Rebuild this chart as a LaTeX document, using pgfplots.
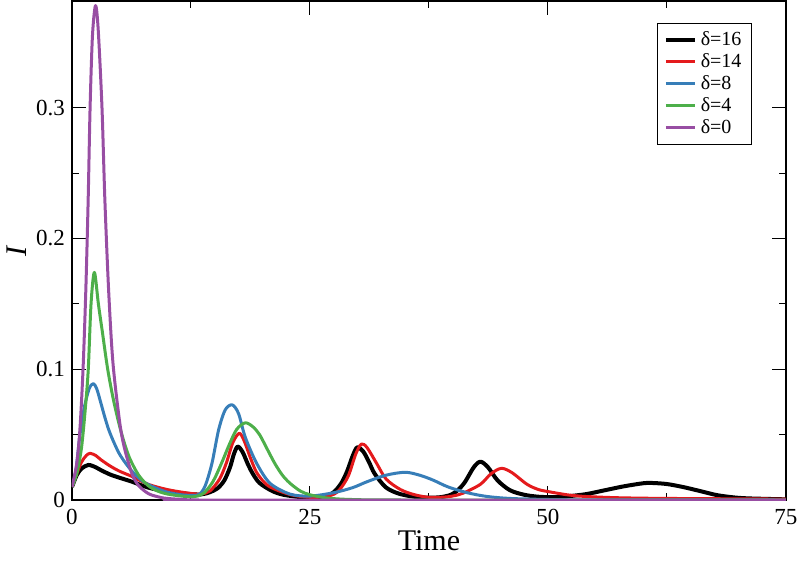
\documentclass[border=0pt]{standalone}
\usepackage{fontspec}
\setmainfont{Liberation Serif}
\usepackage{pgfplots}
\pgfplotsset{compat=1.18}
\definecolor{cred}{HTML}{E41A1C}
\definecolor{cblue}{HTML}{377EB8}
\definecolor{cgreen}{HTML}{4DAF4A}
\definecolor{cpurple}{HTML}{984EA3}
\begin{document}
\begin{tikzpicture}
\path[use as bounding box] (-36pt,-32pt) rectangle (364pt,250pt);
\begin{axis}[
  at={(0,0)}, anchor=south west,
  scale only axis, width=357pt, height=249.5pt,
  xmin=0, xmax=75, ymin=0, ymax=0.3815,
  xtick={0,25,50,75}, xticklabels={0,25,50,75},
  ytick={0,0.1,0.2,0.3}, yticklabels={0,0.1,0.2,0.3},
  minor x tick num=1, minor y tick num=1,
  tick align=inside,
  major tick length=7pt, minor tick length=3.5pt,
  every tick/.style={black, line width=0.5pt},
  axis line style={line width=1pt},
  /pgf/number format/assume math mode=true,
  ticklabel style={font=\rmfamily\fontsize{11.5}{13}\selectfont},
  xticklabel style={yshift=-1pt},
  xlabel={Time}, xlabel style={font=\fontsize{15}{17}\selectfont, yshift=4pt},
  ylabel={\textit{I}}, ylabel style={font=\fontsize{15}{17}\selectfont, yshift=-2pt},
  legend cell align=left,
  legend style={at={(1,1)}, anchor=north east, xshift=-17pt, yshift=-11pt,
    draw=black, line width=0.5pt, font=\fontsize{10}{11.5}\selectfont,
    inner xsep=3pt, inner ysep=2pt, row sep=-1.5pt},
  legend image code/.code={\draw[#1] (0pt,0pt) -- (14.5pt,0pt);},
  every axis plot/.append style={line join=round},
]
\addplot[black, line width=2pt, smooth, tension=0.5] coordinates {
(0,0.01) (0.5,0.019) (1.0,0.024) (1.72,0.0268) (2.5,0.025) (3,0.023) (4,0.0195) (5,0.017) (6.3,0.014) (8,0.0095) (10,0.0065) (12,0.0048) (13.5,0.0042) (14.5,0.006) (15.3,0.009) (16.0,0.015) (16.6,0.025) (17.0,0.035) (17.4,0.0408) (17.9,0.037) (18.5,0.027) (19.0,0.02) (19.7,0.013) (21,0.007) (22.2,0.004) (24,0.0022) (25.5,0.0018) (26.5,0.0025) (27.5,0.006) (28.3,0.013) (28.9,0.022) (29.5,0.034) (29.97,0.0403) (30.6,0.037) (31.2,0.029) (31.8,0.02) (33,0.0095) (34.5,0.0045) (36.5,0.002) (38.5,0.002) (39.8,0.004) (40.6,0.008) (41.3,0.014) (42.2,0.025) (42.9,0.0293) (43.7,0.025) (44.7,0.015) (46,0.0075) (47.5,0.004) (49,0.0025) (50.5,0.0022) (52,0.0028) (54,0.0045) (56,0.0075) (58,0.0105) (60,0.0128) (61,0.013) (62.5,0.0122) (64.2,0.0099) (66,0.0068) (67.7,0.0038) (69.5,0.002) (71.2,0.0012) (75,0.0005)
};
\addlegendentry{δ=16}
\addplot[cred, line width=1.5pt, smooth, tension=0.5] coordinates {
(0,0.01) (0.5,0.02) (1.0,0.029) (1.5,0.034) (1.9,0.0357) (2.5,0.034) (3,0.031) (4,0.026) (5,0.022) (6.3,0.018) (8,0.012) (10,0.008) (12,0.0055) (13.5,0.0045) (14.5,0.007) (15.5,0.016) (16.2,0.028) (16.9,0.044) (17.58,0.051) (18.1,0.045) (18.7,0.033) (19.4,0.021) (20.4,0.012) (21.5,0.0077) (23,0.004) (24.3,0.0025) (25.5,0.002) (27,0.003) (28,0.007) (29,0.018) (29.8,0.035) (30.4,0.0428) (31,0.040) (32,0.028) (33,0.016) (34.5,0.008) (36,0.004) (37.6,0.002) (39.5,0.0025) (41,0.005) (42.9,0.012) (44,0.020) (45.1,0.0242) (46.2,0.021) (47.8,0.012) (49,0.008) (50.2,0.0062) (52,0.004) (53.7,0.0028) (57,0.0018) (61,0.0013) (67,0.001) (75,0.0007)
};
\addlegendentry{δ=14}
\addplot[cblue, line width=1.5pt, smooth, tension=0.5] coordinates {
(0,0.01) (0.4,0.022) (0.84,0.05) (1.3,0.071) (1.8,0.085) (2.24,0.089) (2.6,0.085) (3.0,0.075) (3.5,0.062) (4.0,0.051) (5,0.035) (6.3,0.022) (7.5,0.014) (8.7,0.0095) (10,0.006) (11.5,0.004) (12.7,0.0035) (13.4,0.0045) (14.0,0.011) (14.7,0.028) (15.4,0.0536) (16.1,0.069) (16.84,0.0727) (17.5,0.066) (18.2,0.048) (19.4,0.028) (20.8,0.0128) (22.9,0.0045) (25,0.003) (27.5,0.0056) (29.5,0.0095) (31,0.014) (33,0.019) (35,0.0212) (36.5,0.019) (37.9,0.0153) (39.5,0.010) (41.5,0.0056) (43.5,0.0028) (46,0.0012) (50,0.0004) (55,0.0001) (75,0)
};
\addlegendentry{δ=8}
\addplot[cgreen, line width=1.5pt, smooth, tension=0.5] coordinates {
(0,0.01) (0.5,0.02) (1.0,0.04) (1.4,0.07) (1.71,0.10) (2.0,0.15) (2.35,0.174) (2.77,0.15) (3.2,0.128) (3.75,0.10) (4.4,0.075) (5.2,0.051) (6,0.033) (7,0.019) (8,0.011) (9,0.0068) (10,0.0046) (11.5,0.003) (12.8,0.0025) (13.8,0.005) (14.8,0.014) (15.7,0.028) (16.5,0.042) (17.3,0.054) (18.2,0.059) (19,0.056) (19.7,0.050) (20.5,0.039) (21.3,0.028) (22.1,0.019) (22.9,0.0128) (24,0.0068) (25,0.004) (26.5,0.0018) (28,0.0008) (30,0.0003) (35,0) (75,0)
};
\addlegendentry{δ=4}
\addplot[cpurple, line width=1.5pt, smooth, tension=0.5] coordinates {
(0,0.01) (0.5,0.028) (0.84,0.055) (1.16,0.10) (1.45,0.16) (1.7,0.23) (1.9,0.30) (2.15,0.355) (2.47,0.378) (2.75,0.36) (3.15,0.30) (3.45,0.23) (3.85,0.16) (4.3,0.105) (5.0,0.06) (5.5,0.04) (6.3,0.02) (7,0.011) (8,0.005) (9,0.0025) (10,0.0012) (12,0.0003) (14,0) (75,0)
};
\addlegendentry{δ=0}
\end{axis}
\end{tikzpicture}
\end{document}
